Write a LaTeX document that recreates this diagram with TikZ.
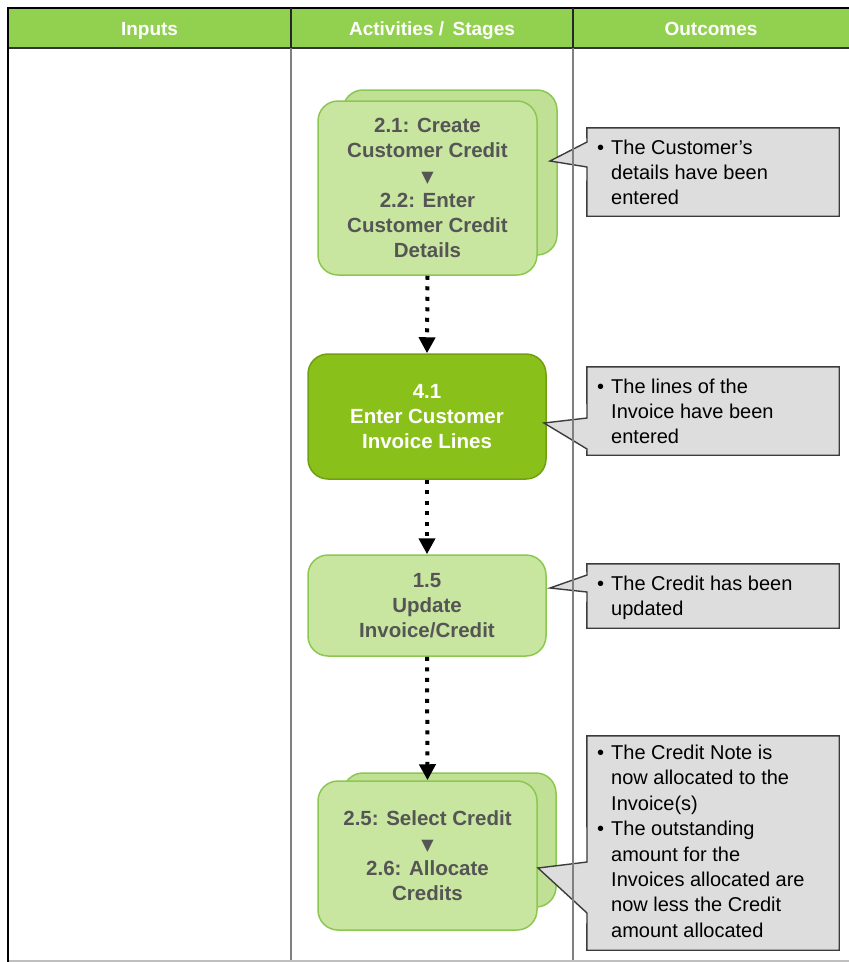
\documentclass[tikz,border=0pt]{standalone}
\usepackage{fontspec}
\setmainfont{Liberation Sans}
\newfontfamily\dejavu{DejaVu Sans}
\newcommand\tridown{{\dejavu\fontsize{16}{25}\selectfont ▼}}
\usetikzlibrary{arrows.meta}
\definecolor{hdrgreen}{RGB}{146,208,80}
\definecolor{boxlight}{RGB}{200,230,160}
\definecolor{boxback}{RGB}{192,224,150}
\definecolor{boxlightborder}{RGB}{140,200,80}
\definecolor{boxdark}{RGB}{138,192,26}
\definecolor{boxdarkborder}{RGB}{112,160,16}
\definecolor{boxtext}{RGB}{85,85,85}
\definecolor{callfill}{RGB}{221,221,221}
\definecolor{callborder}{RGB}{60,60,60}
\definecolor{colline}{RGB}{128,128,128}
\tikzset{
  hdrcell/.style={fill=hdrgreen, draw=none, minimum height=40pt, inner sep=0pt,
    text height=16pt, text depth=2pt,
    text=white, font=\fontsize{19}{22}\selectfont\bfseries},
  stagebox/.style={draw=boxlightborder, fill=boxlight, line width=1.5pt,
    rounded corners=20pt, inner sep=0pt, align=center, text=boxtext,
    font=\fontsize{20.5}{25}\selectfont\bfseries},
  darkbox/.style={stagebox, draw=boxdarkborder, fill=boxdark, text=white},
  backbox/.style={draw=boxlightborder, fill=boxback, line width=1.5pt,
    rounded corners=20pt, inner sep=0pt},
  flowarrow/.style={line width=4pt, dash pattern=on 4pt off 6.5pt,
    -{Triangle[width=16pt,length=16pt]}},
  calloutbox/.style={draw=none, inner sep=0pt},
  calloutshape/.style={fill=callfill, draw=callborder, line width=1.4pt, line join=miter},
  callouttext/.style={anchor=north west, inner sep=0pt, text=black,
    font=\fontsize{20}{25}\selectfont}
}
\begin{document}
\begin{tikzpicture}[x=1pt,y=-1pt]
\useasboundingbox (0,0) rectangle (849,962);
\fill[white] (0,0) rectangle (849,962);

% header
\node[hdrcell, minimum width=283pt] (h1) at (149.5,28) {Inputs};
\node[hdrcell, minimum width=282pt] (h2) at (432,28) {Activities /\, Stages};
\node[hdrcell, minimum width=276pt] (h3) at (711,28) {Outcomes};
\draw[black, line width=2pt] (8,8) -- (849,8);
\draw[black!80, line width=2pt] (8,48) -- (849,48);
\draw[black!85, line width=1.5pt] (291,8) -- (291,48);
\draw[black!85, line width=1.5pt] (573,8) -- (573,48);

% stage boxes
\draw[backbox] (343,90) rectangle (557,255);
\node[stagebox, minimum width=219pt, minimum height=174pt] (b1) at (427.5,188)
  {2.1: Create\\Customer Credit\\\tridown\\2.2: Enter\\Customer Credit\\Details};
\node[darkbox, minimum width=238pt, minimum height=125pt] (b2) at (427,416.5)
  {4.1\\Enter Customer\\Invoice Lines};
\node[stagebox, minimum width=238pt, minimum height=101pt] (b3) at (427,605.5)
  {1.5\\Update\\Invoice/Credit};
\draw[backbox] (343,773) rectangle (556,907);
\node[stagebox, minimum width=219pt, minimum height=149pt] (b4) at (427.5,855.5)
  {2.5: Select Credit\\\tridown\\2.6: Allocate\\Credits};

% arrows
\draw[flowarrow] (b1.south) -- (b2.north);
\draw[flowarrow] (b2.south) -- (b3.north);
\draw[flowarrow] (b3.south) -- (b4.north);

% callouts
\node[calloutbox, minimum width=252pt, minimum height=88pt] (c1) at (713,172) {};
\coordinate (c1u) at (587,142);
\coordinate (c1l) at (587,167);
\coordinate (t1) at (550,161);
\draw[calloutshape] (c1.north west) -- (c1.north east) -- (c1.south east) -- (c1.south west)
  -- (c1l) -- (t1) -- (c1u) -- cycle;
\node[callouttext] (c1t) at (597,136.5)
  {\begin{tabular}{@{}l@{\hspace{7pt}}l@{}}•&The Customer's\\&details have been\\&entered\end{tabular}};

\node[calloutbox, minimum width=252pt, minimum height=88pt] (c2) at (713,411) {};
\coordinate (c2u) at (587,418);
\coordinate (c2l) at (587,449);
\coordinate (t2) at (544,423);
\draw[calloutshape] (c2.north west) -- (c2.north east) -- (c2.south east) -- (c2.south west)
  -- (c2l) -- (t2) -- (c2u) -- cycle;
\node[callouttext] (c2t) at (597,375.5)
  {\begin{tabular}{@{}l@{\hspace{7pt}}l@{}}•&The lines of the\\&Invoice have been\\&entered\end{tabular}};

\node[calloutbox, minimum width=252pt, minimum height=64pt] (c3) at (713,596) {};
\coordinate (c3u) at (587,575);
\coordinate (c3l) at (587,592);
\coordinate (t3) at (550,588);
\draw[calloutshape] (c3.north west) -- (c3.north east) -- (c3.south east) -- (c3.south west)
  -- (c3l) -- (t3) -- (c3u) -- cycle;
\node[callouttext] (c3t) at (597,572.5)
  {\begin{tabular}{@{}l@{\hspace{7pt}}l@{}}•&The Credit has been\\&updated\end{tabular}};

\node[calloutbox, minimum width=252pt, minimum height=214pt] (c4) at (713,843) {};
\coordinate (c4u) at (587,862);
\coordinate (c4l) at (587,913);
\coordinate (t4) at (538,868);
\draw[calloutshape] (c4.north west) -- (c4.north east) -- (c4.south east) -- (c4.south west)
  -- (c4l) -- (t4) -- (c4u) -- cycle;
\node[callouttext, font=\fontsize{20}{25.4}\selectfont] (c4t) at (597,741.5)
  {\begin{tabular}{@{}l@{\hspace{7pt}}l@{}}•&The Credit Note is\\&now allocated to the\\&Invoice(s)\\
   •&The outstanding\\&amount for the\\&Invoices allocated are\\&now less the Credit\\&amount allocated\end{tabular}};

% table lines
\draw[colline, line width=2pt] (291,48) -- (291,962);
\draw[colline, line width=2pt] (573,48) -- (573,962);
\draw[black!25, line width=1.5pt] (8,961) -- (849,961);
\draw[black, line width=2.5pt] (8,7) -- (8,962);
\end{tikzpicture}
\end{document}
